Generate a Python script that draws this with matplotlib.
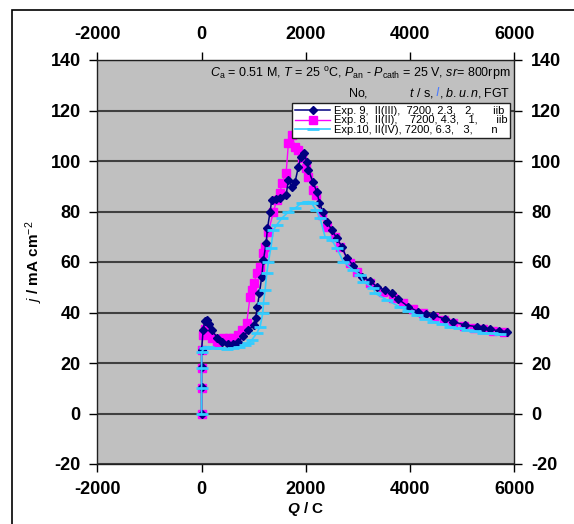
import matplotlib
matplotlib.use("Agg")
import matplotlib.pyplot as plt
from matplotlib.patches import Rectangle

plt.rcParams.update({
    "font.family": ["Liberation Sans", "DejaVu Sans"],
    "axes.unicode_minus": False,
    "mathtext.fontset": "custom",
    "mathtext.rm": "Liberation Sans",
    "mathtext.it": "Liberation Sans:italic",
    "mathtext.bf": "Liberation Sans:bold",
    "mathtext.bfit": "Liberation Sans:bold:italic",
})

# Exp. 9 (navy diamonds)
q_exp9 = [0, 0, 0, 0, 30, 60, 100, 150, 200, 300, 400, 500, 600, 700, 800, 900,
          1000, 1040, 1071, 1110, 1155, 1187, 1238, 1264,
          1315, 1347, 1420, 1507, 1622, 1667, 1731, 1795, 1858, 1910, 1967, 2019, 2051,
          2134, 2211, 2262, 2326, 2403, 2499, 2595, 2691, 2787, 2914, 3075, 3234,
          3363, 3520, 3651, 3778, 3969, 4161, 4300, 4449, 4674, 4833, 5058, 5282, 5400,
          5537, 5700, 5857]
j_exp9 = [0, 10.6, 18.5, 25, 33, 36.5, 37, 35.5, 33, 30, 28.5, 27.5, 27.5, 28.5, 30.5, 33,
          35, 38, 42.3, 47.6, 54.2, 60.8, 67.4, 73.3,
          79.9, 84.6, 85, 85.2, 86.5, 92.5, 89.8, 91.8, 97.7, 101.7, 103.3, 99.7, 96.4,
          91.8, 87.8, 83.5, 79.9, 76, 72.7, 69.4, 66.1, 61.5, 58.6, 54.2, 52.5,
          50.2, 48.8, 47.6, 45.2, 42.3, 40.3, 39.5, 39, 37.3, 36.4, 35, 34.4, 33.8,
          33.3, 32.8, 32.4]

# Exp. 8 (magenta squares)
q_exp8 = [0, 0, 0, 0, 30, 67, 120, 200, 292, 420, 520, 611, 700, 771, 867, 931, 970,
          1008, 1059, 1123, 1187, 1219, 1283, 1379, 1443, 1507, 1539, 1622, 1667, 1731,
          1795, 1858, 1923, 2006, 2051, 2134, 2198, 2307, 2403, 2562, 2658, 2850, 2979,
          3234, 3490, 3680, 3874, 4060, 4258, 4450, 4642, 4830, 5026, 5220, 5409, 5600,
          5793]
j_exp8 = [0, 10, 18, 25, 31, 33.5, 32.5, 30, 28.4, 29.8, 30, 29.8, 31, 33.1, 36, 46.3, 49,
          51.6, 55.5, 58.1, 63.4, 66.1, 72, 79.9, 84.6, 87.2, 91.2, 95.1, 107.2, 110.3,
          105.7, 104.4, 101.1, 97.1, 93.8, 88.5, 86.5, 78.6, 74, 70, 66.1, 59.5, 56.2,
          51.6, 48.2, 45.8, 43.6, 41.5, 39.7, 38.2, 37, 35.8, 34.7, 34, 33.3, 32.8,
          32.4]

# Exp. 10 (cyan dashes)
q_exp10 = [0, 0, 0, 3, 60, 131, 240, 355, 480, 611, 720, 835, 900, 963, 1059, 1123, 1174,
           1187, 1219, 1251, 1283, 1328, 1379, 1443, 1539, 1667, 1795, 1923, 2051, 2115,
           2198, 2274, 2370, 2499, 2595, 2722, 2914, 3042, 3106, 3298, 3330, 3554, 3810,
           3970, 4130, 4290, 4449, 4610, 4770, 4930, 5090, 5250, 5409, 5570, 5729]
j_exp10 = [0, 10, 18, 24.5, 26, 26.5, 26, 25.8, 25.6, 25.8, 26.3, 27.1, 28, 29.1, 31.8,
           34.4, 39.7, 43.6, 48.9, 55.5, 60.1, 65.4, 72.7, 74.7, 77.3, 79.9, 81.3, 83.5,
           83.9, 83.2, 80.6, 77.3, 70, 68.7, 65.4, 60.1, 56.8, 54.9, 52.2, 49.6, 47.6, 45,
           42.1, 40.5, 39, 37.6, 36.4, 35.3, 34.4, 33.7, 33.1, 32.5, 32, 31.7, 31.5]

labels = ["Exp. 9,  II(III),  7200, 2.3,   2,      iib",
          "Exp. 8,  II(II),    7200, 4.3,   1,      iib",
          "Exp.10, II(IV), 7200, 6.3,   3,      n"]

fig = plt.figure(figsize=(5.74, 5.24), dpi=100)
ax = fig.add_axes([97.3 / 574, 1 - 464 / 524, 417 / 574, 404 / 524])
ax.set_facecolor("#C0C0C0")

ax.plot(q_exp9, j_exp9, color="#000080", lw=1.1, marker="D", ms=4.5, label=labels[0], zorder=4)
ax.plot(q_exp8, j_exp8, color="#FF00FF", lw=1.0, marker="s", ms=5.5, label=labels[1], zorder=3)
ax.plot(q_exp10, j_exp10, color="#33CCFF", lw=1.2, marker="_", ms=8, mew=2, label=labels[2], zorder=5)

ax.set_xlim(-2000, 6000)
ax.set_ylim(-20, 140)
ax.set_xticks([-2000, 0, 2000, 4000, 6000])
ax.set_yticks(range(-20, 141, 20))
ax.grid(axis="y", color="#404040", lw=1.5)
ax.set_axisbelow(True)
ax.tick_params(axis="both", direction="out", length=6, width=1, labelsize=13,
               top=True, right=True, labeltop=True, labelright=True, pad=6)
for lab in ax.get_xticklabels() + ax.get_yticklabels():
    lab.set_fontweight("bold")
for s in ax.spines.values():
    s.set_linewidth(1)
    s.set_color("#202020")

ax.set_xlabel(r"$\boldsymbol{Q}$ / C", fontsize=11, fontweight="bold", labelpad=2)
ax.set_ylabel(r"$j$ / mA cm$^{-2}$", fontsize=11, fontweight="bold", labelpad=4)

ax.text(0.99, 0.966,
        r"$C_{\rm a}$ = 0.51 M, $T$ = 25 $^{\rm o}$C, $P_{\rm an}$ - $P_{\rm cath}$ = 25 V, $sr$= 800rpm",
        transform=ax.transAxes, ha="right", va="center", fontsize=9)
# second line, with a blue italic I
y2 = 0.919
t1 = ax.text(0.99, y2, r", $b.u.n,$FGT", transform=ax.transAxes, ha="right", va="center", fontsize=9)
fig.canvas.draw()
bb = t1.get_window_extent().transformed(ax.transAxes.inverted())
t2 = ax.text(bb.x0, y2, "I", transform=ax.transAxes, ha="right", va="center",
             fontsize=9, color="#4A7BFF", style="italic")
fig.canvas.draw()
bb2 = t2.get_window_extent().transformed(ax.transAxes.inverted())
ax.text(bb2.x0 - 0.005, y2, r"No,            $t$ / s,", transform=ax.transAxes,
        ha="right", va="center", fontsize=9)

leg = ax.legend(loc="upper right", bbox_to_anchor=(0.99, 0.893), fontsize=8,
                frameon=True, fancybox=False, edgecolor="#202020", facecolor="white",
                framealpha=1, handlelength=3.2, handletextpad=0.3, labelspacing=-0.05,
                borderpad=0.25, borderaxespad=0)
leg.get_frame().set_linewidth(1)

fig.patches.append(Rectangle((12 / 574, -0.1), 1.2, 1 - 10 / 524 + 0.1,
                             transform=fig.transFigure, fill=False,
                             edgecolor="black", lw=1.2))

fig.savefig("out.png", dpi=100)
